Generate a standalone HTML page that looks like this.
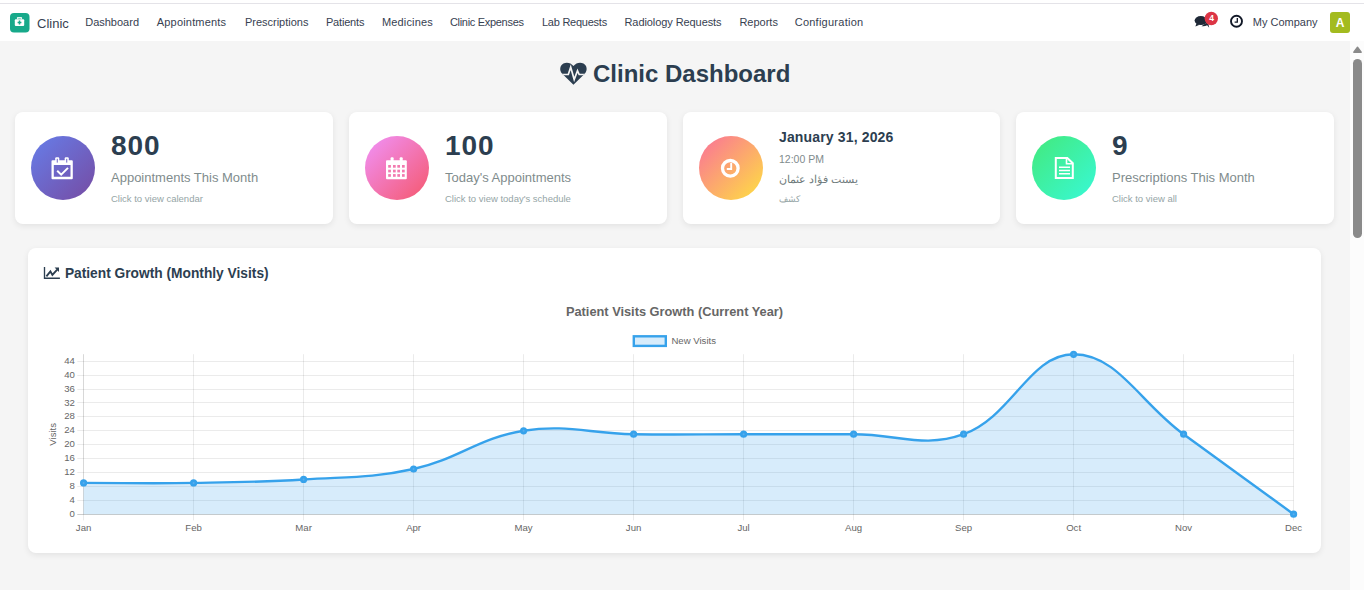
<!DOCTYPE html>
<html><head><meta charset="utf-8">
<style>
*{box-sizing:border-box;margin:0;padding:0}
html,body{width:1364px;height:590px;overflow:hidden;background:#f5f5f5;font-family:"Liberation Sans",sans-serif}
.abs{position:absolute;white-space:nowrap}
#topline{position:absolute;left:0;top:0;width:1364px;height:41px;background:#fff}
#topline:before{content:"";position:absolute;left:0;top:3px;width:1364px;height:1px;background:#e4e3e8}
.nav{position:absolute;top:17px;font-size:11px;line-height:11px;color:#374151;white-space:nowrap}
#sb{position:absolute;left:1350px;top:41px;width:14px;height:549px;background:#fcfcfc}
#sbthumb{position:absolute;left:3px;top:18px;width:9px;height:179px;border-radius:5px;background:#8a8a8a}
.card{position:absolute;top:112px;width:318px;height:112px;background:#fff;border-radius:8px;box-shadow:0 2px 6px rgba(0,0,0,0.08)}
.circ{position:absolute;left:16px;top:24px;width:64px;height:64px;border-radius:50%}
.num{position:absolute;left:96px;font-size:28px;line-height:28px;font-weight:bold;color:#2c3e50;white-space:nowrap;letter-spacing:0.9px}
.lbl{position:absolute;left:96px;font-size:13px;line-height:13px;color:#7f8c8d;white-space:nowrap}
.sub{position:absolute;left:96px;font-size:9.5px;line-height:9.5px;color:#95a5a6;white-space:nowrap}
#chartcard{position:absolute;left:28px;top:248px;width:1293px;height:305px;background:#fff;border-radius:8px;box-shadow:0 2px 6px rgba(0,0,0,0.08)}
</style></head><body>
<div id="topline"></div>
<!-- brand -->
<div class="abs" style="left:37px;top:17px;font-size:13px;line-height:13px;color:#374151">Clinic</div>
<div class="nav" style="left:85.2px">Dashboard</div>
<div class="nav" style="left:156.8px;letter-spacing:0.18px">Appointments</div>
<div class="nav" style="left:244.9px">Prescriptions</div>
<div class="nav" style="left:325.9px;letter-spacing:-0.17px">Patients</div>
<div class="nav" style="left:381.9px;letter-spacing:0.17px">Medicines</div>
<div class="nav" style="left:449.9px;letter-spacing:-0.3px">Clinic Expenses</div>
<div class="nav" style="left:542px;letter-spacing:-0.25px">Lab Requests</div>
<div class="nav" style="left:624.5px;letter-spacing:-0.08px">Radiology Requests</div>
<div class="nav" style="left:739.4px">Reports</div>
<div class="nav" style="left:794.7px;letter-spacing:0.25px">Configuration</div>
<div class="nav" style="left:1252.8px;top:16.8px">My Company</div>
<div class="abs" style="left:1330px;top:12px;width:20px;height:21px;border-radius:3px;background:#a3bb1f"></div>

<div id="sb"><div id="sbthumb"></div></div>

<!-- title -->
<div class="abs" style="left:593px;top:62px;font-size:24px;line-height:24px;font-weight:bold;color:#2c3e50">Clinic Dashboard</div>

<!-- cards -->
<div class="card" style="left:15px">
  <div class="circ" style="background:linear-gradient(135deg,#667eea,#764ba2)"></div>
  <div class="num" style="top:20.3px">800</div>
  <div class="lbl" style="top:59px">Appointments This Month</div>
  <div class="sub" style="top:81.8px">Click to view calendar</div>
</div>
<div class="card" style="left:349px">
  <div class="circ" style="background:linear-gradient(135deg,#f093fb,#f5576c)"></div>
  <div class="num" style="top:20.3px">100</div>
  <div class="lbl" style="top:59px">Today's Appointments</div>
  <div class="sub" style="top:81.8px">Click to view today's schedule</div>
</div>
<div class="card" style="left:683px;width:317px">
  <div class="circ" style="background:linear-gradient(135deg,#fa709a,#fee140)"></div>
  <div class="num" style="top:18px;font-size:14px;line-height:14px;letter-spacing:0.15px">January 31, 2026</div>
  <div class="lbl" style="top:42px;font-size:10.5px;line-height:10.5px">12:00 PM</div>
  <div class="lbl" style="top:61.5px;font-size:10.8px;line-height:10.8px;color:#6f7b7c">يسنت فؤاد عثمان</div>
  <div class="sub" style="top:83px;font-size:9px;line-height:9px">كشف</div>
</div>
<div class="card" style="left:1016px">
  <div class="circ" style="background:linear-gradient(135deg,#43e97b,#38f9d7)"></div>
  <div class="num" style="top:20.3px">9</div>
  <div class="lbl" style="top:59px">Prescriptions This Month</div>
  <div class="sub" style="top:81.8px">Click to view all</div>
</div>

<!-- chart card -->
<div id="chartcard"></div>
<div class="abs" style="left:64.9px;top:266.5px;font-size:13.75px;line-height:13.75px;font-weight:bold;color:#2c3e50">Patient Growth (Monthly Visits)</div>
<!--ICONS-->
<svg class="abs" style="left:0;top:0" width="1364" height="590" viewBox="0 0 1364 590">
<defs>
<clipPath id="hc"><path d="M573.45,84.8 L562.2,73.8 C559.2,70.8 559.7,65.6 563.4,63.6 C566.8,61.9 570.9,62.9 573.45,66.1 C576.0,62.9 580.1,61.9 583.5,63.6 C587.2,65.6 587.7,70.8 584.7,73.8 Z"/></clipPath>
</defs>
<!-- app icon -->
<rect x="10" y="13" width="19.5" height="19.5" rx="4" fill="#17a98a"/>
<rect x="14.8" y="19.2" width="9.4" height="6.8" rx="1" fill="#fff"/>
<rect x="16.9" y="17" width="5.2" height="2.6" rx="0.8" fill="#dff3ee"/><rect x="18.2" y="18.1" width="2.6" height="1.1" fill="#7fcdb8"/>
<path d="M19.5,20.6 V24.4 M17.6,22.5 H21.4" stroke="#17a98a" stroke-width="1.5"/>
<!-- heartbeat -->
<path d="M573.45,84.8 L562.2,73.8 C559.2,70.8 559.7,65.6 563.4,63.6 C566.8,61.9 570.9,62.9 573.45,66.1 C576.0,62.9 580.1,61.9 583.5,63.6 C587.2,65.6 587.7,70.8 584.7,73.8 Z" fill="#2c3e50"/>
<polyline clip-path="url(#hc)" points="556,74.5 568.3,74.5 570.7,67.2 574.2,79.6 577.5,70.8 579.2,74.5 592,74.5" fill="none" stroke="#f5f5f5" stroke-width="1.7" stroke-linejoin="miter"/>
<!-- chat icon -->
<ellipse cx="1200.8" cy="20.6" rx="6.2" ry="4.5" fill="#1f2937"/>
<path d="M1196.4,23.6 L1195.4,26.6 L1199.6,24.8 Z" fill="#1f2937"/>
<path d="M1201.5,26.2 C1203.5,26.6 1205.6,26.2 1207.2,25.3 L1209.2,27.8 L1208.4,24.1 C1209.5,22.8 1209.6,21.6 1209.3,20.5 Z" fill="#1f2937"/>
<circle cx="1211.3" cy="18.5" r="6.7" fill="#dc3545"/>
<text x="1211.6" y="21.2" text-anchor="middle" font-size="8.5" font-weight="bold" fill="#fff">4</text>
<!-- nav clock -->
<circle cx="1236.5" cy="21.3" r="5.5" fill="none" stroke="#111827" stroke-width="1.9"/>
<path d="M1237.3,17.9 V22.2 H1234.6" fill="none" stroke="#111827" stroke-width="1.3"/>
<!-- card1 calendar-check -->
<path d="M51.5,161.2 a1,1 0 0 1 1,-1 h19.3 a1,1 0 0 1 1,1 v17 a1,1 0 0 1 -1,1 h-19.3 a1,1 0 0 1 -1,-1 Z M53.8,165 v11.8 h16.7 v-11.8 Z" fill="#fff" fill-rule="evenodd"/>
<rect x="55.2" y="157.2" width="4.1" height="6" rx="1.2" fill="#fff"/>
<rect x="64.7" y="157.2" width="4.1" height="6" rx="1.2" fill="#fff"/>
<path d="M57.25,158.8 V162.6 M66.75,158.8 V162.6" stroke="#6d63c6" stroke-width="1"/>
<path d="M57.2,170.8 L61.2,174.6 L68,167.9" fill="none" stroke="#fff" stroke-width="2"/>
<!-- card2 calendar -->
<path d="M386,161.2 a1,1 0 0 1 1,-1 h18.8 a1,1 0 0 1 1,1 v17 a1,1 0 0 1 -1,1 h-18.8 a1,1 0 0 1 -1,-1 Z" fill="#fff"/>
<rect x="390.6" y="157.2" width="3" height="5.6" rx="1" fill="#fff"/>
<rect x="399.7" y="157.2" width="3" height="5.6" rx="1" fill="#fff"/>
<g fill="#f27bb0">
<rect x="388.2" y="165" width="2.7" height="2.7"/><rect x="393" y="165" width="2.7" height="2.7"/><rect x="397.3" y="165" width="2.7" height="2.7"/><rect x="402" y="165" width="2.7" height="2.7"/>
<rect x="388.2" y="169.7" width="2.7" height="2.7"/><rect x="393" y="169.7" width="2.7" height="2.7"/><rect x="397.3" y="169.7" width="2.7" height="2.7"/><rect x="402" y="169.7" width="2.7" height="2.7"/>
<rect x="388.2" y="174.1" width="2.7" height="2.7"/><rect x="393" y="174.1" width="2.7" height="2.7"/><rect x="397.3" y="174.1" width="2.7" height="2.7"/><rect x="402" y="174.1" width="2.7" height="2.7"/>
</g>
<!-- card3 clock -->
<circle cx="730.3" cy="168.3" r="7.8" fill="none" stroke="#fff" stroke-width="3.3"/>
<path d="M731.2,163 V169 H726.8" fill="none" stroke="#fff" stroke-width="1.9"/>
<!-- card4 file-text -->
<path d="M1055.8,158 H1067.3 L1072.8,163.3 V178 H1055.8 Z" fill="none" stroke="#fff" stroke-width="2"/>
<path d="M1066.5,157.5 V163.8 H1073" fill="none" stroke="#fff" stroke-width="1.6"/>
<path d="M1059,167.3 H1070 M1059,170.5 H1070 M1059,173.7 H1070" stroke="#fff" stroke-width="1.4"/>
<!-- line chart icon -->
<path d="M44.5,267 V278.2 H59.9" fill="none" stroke="#2c3e50" stroke-width="1.35"/>
<path d="M46.4,276.3 L50.4,271.4 L52.4,274.9 L57.2,269.6" fill="none" stroke="#2c3e50" stroke-width="1.9"/>
<path d="M54.6,267.6 H59 V272 Z" fill="#2c3e50"/>
<!-- scrollbar arrow -->
<path d="M1357.5,47.2 L1361.2,52.2 H1353.8 Z" fill="#8a8a8a" stroke="#8a8a8a" stroke-width="1.4" stroke-linejoin="round"/>
<!-- avatar letter -->
<text x="1340" y="27.3" text-anchor="middle" font-size="12" font-weight="bold" fill="#fff">A</text>
</svg>
<!--/ICONS-->
<!--CHART-->
<svg class="abs" style="left:0;top:0" width="1364" height="590" viewBox="0 0 1364 590">
<line x1="77.3" y1="514.5" x2="1293.6" y2="514.5" stroke="rgba(0,0,0,0.25)" stroke-width="0.8"/>
<text x="74.8" y="516.8" text-anchor="end" font-size="9.6" fill="#666">0</text>
<line x1="77.3" y1="500.5" x2="1293.6" y2="500.5" stroke="rgba(0,0,0,0.1)" stroke-width="0.8"/>
<text x="74.8" y="502.9" text-anchor="end" font-size="9.6" fill="#666">4</text>
<line x1="77.3" y1="486.5" x2="1293.6" y2="486.5" stroke="rgba(0,0,0,0.1)" stroke-width="0.8"/>
<text x="74.8" y="489.0" text-anchor="end" font-size="9.6" fill="#666">8</text>
<line x1="77.3" y1="472.5" x2="1293.6" y2="472.5" stroke="rgba(0,0,0,0.1)" stroke-width="0.8"/>
<text x="74.8" y="475.1" text-anchor="end" font-size="9.6" fill="#666">12</text>
<line x1="77.3" y1="458.5" x2="1293.6" y2="458.5" stroke="rgba(0,0,0,0.1)" stroke-width="0.8"/>
<text x="74.8" y="461.2" text-anchor="end" font-size="9.6" fill="#666">16</text>
<line x1="77.3" y1="444.5" x2="1293.6" y2="444.5" stroke="rgba(0,0,0,0.1)" stroke-width="0.8"/>
<text x="74.8" y="447.3" text-anchor="end" font-size="9.6" fill="#666">20</text>
<line x1="77.3" y1="430.5" x2="1293.6" y2="430.5" stroke="rgba(0,0,0,0.1)" stroke-width="0.8"/>
<text x="74.8" y="433.4" text-anchor="end" font-size="9.6" fill="#666">24</text>
<line x1="77.3" y1="416.5" x2="1293.6" y2="416.5" stroke="rgba(0,0,0,0.1)" stroke-width="0.8"/>
<text x="74.8" y="419.4" text-anchor="end" font-size="9.6" fill="#666">28</text>
<line x1="77.3" y1="402.5" x2="1293.6" y2="402.5" stroke="rgba(0,0,0,0.1)" stroke-width="0.8"/>
<text x="74.8" y="405.5" text-anchor="end" font-size="9.6" fill="#666">32</text>
<line x1="77.3" y1="389.5" x2="1293.6" y2="389.5" stroke="rgba(0,0,0,0.1)" stroke-width="0.8"/>
<text x="74.8" y="391.6" text-anchor="end" font-size="9.6" fill="#666">36</text>
<line x1="77.3" y1="375.5" x2="1293.6" y2="375.5" stroke="rgba(0,0,0,0.1)" stroke-width="0.8"/>
<text x="74.8" y="377.7" text-anchor="end" font-size="9.6" fill="#666">40</text>
<line x1="77.3" y1="361.5" x2="1293.6" y2="361.5" stroke="rgba(0,0,0,0.1)" stroke-width="0.8"/>
<text x="74.8" y="363.8" text-anchor="end" font-size="9.6" fill="#666">44</text>
<line x1="83.5" y1="354.2" x2="83.5" y2="520.4" stroke="rgba(0,0,0,0.1)" stroke-width="0.8"/>
<text x="83.6" y="531" text-anchor="middle" font-size="9.6" fill="#666">Jan</text>
<line x1="193.5" y1="354.2" x2="193.5" y2="520.4" stroke="rgba(0,0,0,0.1)" stroke-width="0.8"/>
<text x="193.6" y="531" text-anchor="middle" font-size="9.6" fill="#666">Feb</text>
<line x1="303.5" y1="354.2" x2="303.5" y2="520.4" stroke="rgba(0,0,0,0.1)" stroke-width="0.8"/>
<text x="303.6" y="531" text-anchor="middle" font-size="9.6" fill="#666">Mar</text>
<line x1="413.5" y1="354.2" x2="413.5" y2="520.4" stroke="rgba(0,0,0,0.1)" stroke-width="0.8"/>
<text x="413.6" y="531" text-anchor="middle" font-size="9.6" fill="#666">Apr</text>
<line x1="523.5" y1="354.2" x2="523.5" y2="520.4" stroke="rgba(0,0,0,0.1)" stroke-width="0.8"/>
<text x="523.6" y="531" text-anchor="middle" font-size="9.6" fill="#666">May</text>
<line x1="633.5" y1="354.2" x2="633.5" y2="520.4" stroke="rgba(0,0,0,0.1)" stroke-width="0.8"/>
<text x="633.6" y="531" text-anchor="middle" font-size="9.6" fill="#666">Jun</text>
<line x1="743.5" y1="354.2" x2="743.5" y2="520.4" stroke="rgba(0,0,0,0.1)" stroke-width="0.8"/>
<text x="743.6" y="531" text-anchor="middle" font-size="9.6" fill="#666">Jul</text>
<line x1="853.5" y1="354.2" x2="853.5" y2="520.4" stroke="rgba(0,0,0,0.1)" stroke-width="0.8"/>
<text x="853.6" y="531" text-anchor="middle" font-size="9.6" fill="#666">Aug</text>
<line x1="963.5" y1="354.2" x2="963.5" y2="520.4" stroke="rgba(0,0,0,0.1)" stroke-width="0.8"/>
<text x="963.6" y="531" text-anchor="middle" font-size="9.6" fill="#666">Sep</text>
<line x1="1073.5" y1="354.2" x2="1073.5" y2="520.4" stroke="rgba(0,0,0,0.1)" stroke-width="0.8"/>
<text x="1073.6" y="531" text-anchor="middle" font-size="9.6" fill="#666">Oct</text>
<line x1="1183.5" y1="354.2" x2="1183.5" y2="520.4" stroke="rgba(0,0,0,0.1)" stroke-width="0.8"/>
<text x="1183.6" y="531" text-anchor="middle" font-size="9.6" fill="#666">Nov</text>
<line x1="1293.5" y1="354.2" x2="1293.5" y2="520.4" stroke="rgba(0,0,0,0.1)" stroke-width="0.8"/>
<text x="1293.6" y="531" text-anchor="middle" font-size="9.6" fill="#666">Dec</text>
<line x1="83.5" y1="354.2" x2="83.5" y2="514.2" stroke="rgba(0,0,0,0.1)" stroke-width="0.8"/>
<text transform="translate(55.6,434.3) rotate(-90)" text-anchor="middle" font-size="9.6" fill="#666">Visits</text>
<text x="674.5" y="315.8" text-anchor="middle" font-size="12.8" font-weight="bold" fill="#666">Patient Visits Growth (Current Year)</text>
<rect x="633.8" y="336.3" width="32" height="9.6" fill="rgba(54,162,235,0.2)" stroke="#36a2eb" stroke-width="2.4"/>
<text x="671.4" y="343.8" font-size="9.6" fill="#666">New Visits</text>
<path d="M83.60,482.91 C127.60,482.91 149.61,483.60 193.60,482.91 C237.61,482.21 259.69,482.21 303.60,479.43 C347.69,476.64 370.76,478.48 413.60,469.00 C458.76,459.01 478.36,437.90 523.60,430.75 C566.36,423.99 589.59,433.53 633.60,434.23 C677.59,434.92 699.60,434.23 743.60,434.23 C787.60,434.23 809.60,434.23 853.60,434.23 C897.60,434.23 924.25,448.53 963.60,434.23 C1012.25,416.54 1029.60,354.26 1073.60,354.26 C1117.60,354.26 1139.60,402.24 1183.60,434.23 C1227.60,466.22 1249.60,482.21 1293.60,514.20 L1293.60,514.20 L83.60,514.20 Z" fill="rgba(54,162,235,0.2)"/>
<path d="M83.60,482.91 C127.60,482.91 149.61,483.60 193.60,482.91 C237.61,482.21 259.69,482.21 303.60,479.43 C347.69,476.64 370.76,478.48 413.60,469.00 C458.76,459.01 478.36,437.90 523.60,430.75 C566.36,423.99 589.59,433.53 633.60,434.23 C677.59,434.92 699.60,434.23 743.60,434.23 C787.60,434.23 809.60,434.23 853.60,434.23 C897.60,434.23 924.25,448.53 963.60,434.23 C1012.25,416.54 1029.60,354.26 1073.60,354.26 C1117.60,354.26 1139.60,402.24 1183.60,434.23 C1227.60,466.22 1249.60,482.21 1293.60,514.20" fill="none" stroke="#36a2eb" stroke-width="2.4"/>
<circle cx="83.6" cy="482.9" r="2.3" fill="#5aadee" stroke="#36a2eb" stroke-width="2.6"/>
<circle cx="193.6" cy="482.9" r="2.3" fill="#5aadee" stroke="#36a2eb" stroke-width="2.6"/>
<circle cx="303.6" cy="479.4" r="2.3" fill="#5aadee" stroke="#36a2eb" stroke-width="2.6"/>
<circle cx="413.6" cy="469.0" r="2.3" fill="#5aadee" stroke="#36a2eb" stroke-width="2.6"/>
<circle cx="523.6" cy="430.8" r="2.3" fill="#5aadee" stroke="#36a2eb" stroke-width="2.6"/>
<circle cx="633.6" cy="434.2" r="2.3" fill="#5aadee" stroke="#36a2eb" stroke-width="2.6"/>
<circle cx="743.6" cy="434.2" r="2.3" fill="#5aadee" stroke="#36a2eb" stroke-width="2.6"/>
<circle cx="853.6" cy="434.2" r="2.3" fill="#5aadee" stroke="#36a2eb" stroke-width="2.6"/>
<circle cx="963.6" cy="434.2" r="2.3" fill="#5aadee" stroke="#36a2eb" stroke-width="2.6"/>
<circle cx="1073.6" cy="354.3" r="2.3" fill="#5aadee" stroke="#36a2eb" stroke-width="2.6"/>
<circle cx="1183.6" cy="434.2" r="2.3" fill="#5aadee" stroke="#36a2eb" stroke-width="2.6"/>
<circle cx="1293.6" cy="514.2" r="2.3" fill="#5aadee" stroke="#36a2eb" stroke-width="2.6"/>
</svg>
<!--/CHART-->
</body></html>
